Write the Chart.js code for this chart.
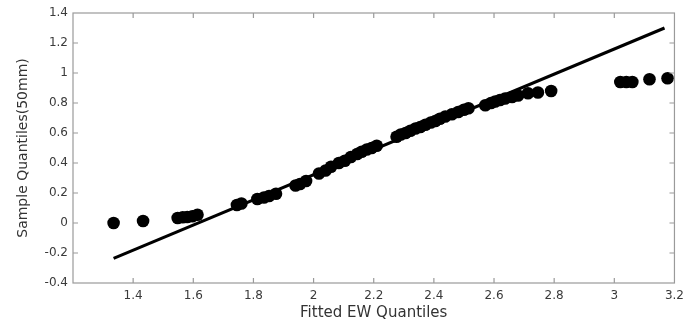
<!DOCTYPE html>
<html>
<head>
<meta charset="utf-8">
<script src="https://cdn.jsdelivr.net/npm/chart.js@4/dist/chart.umd.min.js"></script>
<style>
  html, body { margin: 0; padding: 0; background: #ffffff; }
  #wrap { width: 690px; height: 331px; position: relative; }
</style>
</head>
<body>
<div id="wrap"><canvas id="qq"></canvas></div>
<script>
// Fitted EW quantiles (x) against sample quantiles of the 50mm series (y)
const fittedQuantiles = [
  1.335, 1.433, 1.548, 1.565, 1.580, 1.597, 1.614, 1.745, 1.760, 1.813,
  1.835, 1.852, 1.875, 1.940, 1.955, 1.975, 2.018, 2.040, 2.058, 2.084,
  2.104, 2.124, 2.145, 2.160, 2.177, 2.193, 2.210, 2.276, 2.290, 2.306,
  2.322, 2.339, 2.355, 2.372, 2.390, 2.405, 2.420, 2.438, 2.460, 2.481,
  2.500, 2.515, 2.571, 2.590, 2.604, 2.620, 2.637, 2.660, 2.680, 2.713,
  2.746, 2.790, 3.020, 3.040, 3.060, 3.117, 3.177
];
const sampleQuantiles = [
  0.000, 0.013, 0.033, 0.038, 0.040, 0.045, 0.055, 0.120, 0.130, 0.160,
  0.170, 0.180, 0.195, 0.250, 0.260, 0.280, 0.330, 0.350, 0.375, 0.400,
  0.415, 0.440, 0.460, 0.475, 0.490, 0.500, 0.515, 0.575, 0.590, 0.600,
  0.615, 0.630, 0.640, 0.655, 0.670, 0.680, 0.695, 0.710, 0.725, 0.740,
  0.755, 0.765, 0.785, 0.800, 0.810, 0.820, 0.830, 0.840, 0.850, 0.865,
  0.870, 0.880, 0.940, 0.940, 0.940, 0.958, 0.965
];

// Reference line end points
const refLineX = [1.335, 3.167];
const refLineY = [-0.236, 1.300];

// Axis ranges and tick spacing
const xRange = [1.2, 3.2];
const yRange = [-0.4, 1.4];
const xStep = 0.2;
const yStep = 0.2;
const xHiddenTicks = [1.2];

const xTitle = 'Fitted EW Quantiles';
const yTitle = 'Sample Quantiles(50mm)';

const points = fittedQuantiles.map((x, i) => ({ x: x, y: sampleQuantiles[i] }));
const refLine = refLineX.map((x, i) => ({ x: x, y: refLineY[i] }));

const fmt = v => {
  const r = Math.round(v * 10) / 10;
  return String(Object.is(r, -0) ? 0 : r);
};

// Box around the plot with tick marks pointing inward on all four sides
const boxTicks = {
  id: 'boxTicks',
  afterDraw(chart) {
    const { ctx, chartArea: a, scales } = chart;
    const len = 5;
    ctx.save();
    ctx.strokeStyle = '#9a9a9a';
    ctx.lineWidth = 1.2;
    ctx.strokeRect(a.left, a.top, a.right - a.left, a.bottom - a.top);
    ctx.beginPath();
    scales.x.ticks.forEach(t => {
      const px = scales.x.getPixelForValue(t.value);
      if (px <= a.left + 1 || px >= a.right - 1) return;
      ctx.moveTo(px, a.bottom); ctx.lineTo(px, a.bottom - len);
      ctx.moveTo(px, a.top); ctx.lineTo(px, a.top + len);
    });
    scales.y.ticks.forEach(t => {
      const py = scales.y.getPixelForValue(t.value);
      if (py <= a.top + 1 || py >= a.bottom - 1) return;
      ctx.moveTo(a.left, py); ctx.lineTo(a.left + len, py);
      ctx.moveTo(a.right, py); ctx.lineTo(a.right - len, py);
    });
    ctx.stroke();
    ctx.restore();
  }
};

new Chart(document.getElementById('qq'), {
  type: 'scatter',
  data: {
    datasets: [
      {
        label: 'Quantiles',
        data: points,
        backgroundColor: '#000000',
        borderColor: '#000000',
        pointRadius: 6.3,
        pointHoverRadius: 6.3,
        borderWidth: 0
      },
      {
        label: 'Reference line',
        type: 'line',
        data: refLine,
        borderColor: '#000000',
        borderWidth: 3,
        pointRadius: 0,
        fill: false
      }
    ]
  },
  options: {
    responsive: true,
    maintainAspectRatio: false,
    animation: false,
    layout: { padding: { top: 13, right: 11, left: 0, bottom: 0 } },
    plugins: { legend: { display: false }, tooltip: { enabled: false } },
    scales: {
      x: {
        type: 'linear',
        min: xRange[0],
        max: xRange[1],
        afterFit: s => { s.height = 48; },
        grid: { display: false, drawTicks: false },
        border: { display: false },
        ticks: {
          stepSize: xStep,
          padding: 6,
          color: '#3a3a3a',
          font: { family: 'DejaVu Sans', size: 12 },
          maxRotation: 0,
          callback: v => xHiddenTicks.some(h => Math.abs(h - v) < 1e-9) ? '' : fmt(v)
        },
        title: {
          display: true,
          text: xTitle,
          color: '#333333',
          font: { family: 'DejaVu Sans', size: 15 },
          padding: { top: 0, bottom: 9 }
        }
      },
      y: {
        type: 'linear',
        min: yRange[0],
        max: yRange[1],
        afterFit: s => { s.width = 73; },
        grid: { display: false, drawTicks: false },
        border: { display: false },
        ticks: {
          stepSize: yStep,
          padding: 5,
          color: '#3a3a3a',
          font: { family: 'DejaVu Sans', size: 12 },
          callback: v => fmt(v)
        },
        title: {
          display: true,
          text: yTitle,
          color: '#333333',
          font: { family: 'DejaVu Sans', size: 14 },
          padding: { top: 15, bottom: 0 }
        }
      }
    }
  },
  plugins: [boxTicks]
});
</script>
</body>
</html>
